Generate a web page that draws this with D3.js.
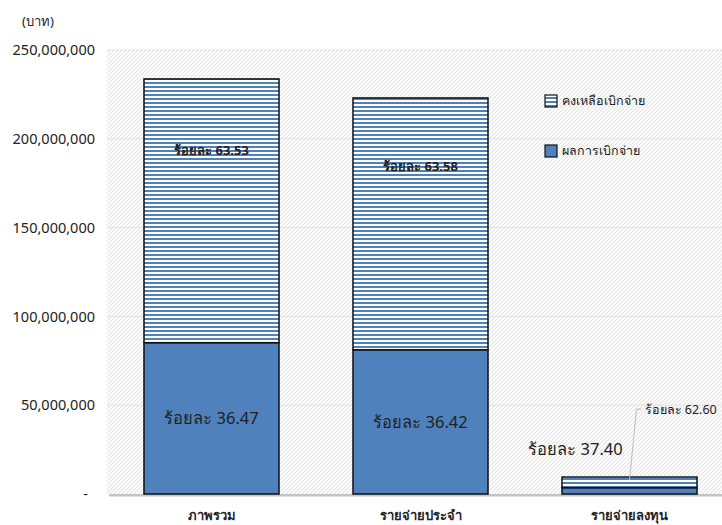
<!DOCTYPE html>
<html lang="th">
<head>
<meta charset="UTF-8">
<title>ผลการเบิกจ่าย</title>
<script src="https://cdn.jsdelivr.net/npm/d3@7"></script>
<style>
    body { margin: 0; background: #fff; }
    svg text { font-family: "Noto Sans", "Open Sans", sans-serif; fill: #222; }
</style>
</head>
<body>
<svg id="chart" width="722" height="525"></svg>
<script>
    // data
    var categories = ["ภาพรวม", "รายจ่ายประจำ", "รายจ่ายลงทุน"];
    var paidValues = [85200000, 81200000, 3570000];
    var remainValues = [148500000, 141800000, 5980000];
    var paidPct = ["36.47", "36.42", "37.40"];
    var remainPct = ["63.53", "63.58", "62.60"];
    var yTicks = [0, 50000000, 100000000, 150000000, 200000000, 250000000];
    var legendNames = ["คงเหลือเบิกจ่าย", "ผลการเบิกจ่าย"];

    var blue = "#4f81bd";
    var svg = d3.select("#chart");

    var plotL = 107, plotR = 734, plotT = 50, plotB = 494;

    var x = d3.scaleBand().domain(categories).range([plotL, plotR]).paddingInner(0.354).paddingOuter(0.177);
    var y = d3.scaleLinear().domain([0, 250000000]).range([plotB, plotT]);

    var defs = svg.append("defs");
    // diagonal hatch for the plot area
    var bg = defs.append("pattern").attr("id", "hatch").attr("patternUnits", "userSpaceOnUse")
        .attr("width", 4).attr("height", 4);
    bg.append("rect").attr("width", 4).attr("height", 4).attr("fill", "#fbfbfb");
    bg.append("path").attr("d", "M-1,1 l2,-2 M0,4 l4,-4 M3,5 l2,-2")
        .attr("stroke", "#dcdcdc").attr("stroke-width", 0.8);
    // horizontal stripes for remaining
    var st = defs.append("pattern").attr("id", "stripes").attr("patternUnits", "userSpaceOnUse")
        .attr("width", 8).attr("height", 4);
    st.append("rect").attr("width", 8).attr("height", 4).attr("fill", "#ffffff");
    st.append("rect").attr("y", 2).attr("width", 8).attr("height", 2).attr("fill", blue);

    // shadow under plot area
    svg.append("rect").attr("x", plotL + 2).attr("y", plotB).attr("width", plotR - plotL).attr("height", 2.5)
        .attr("fill", "#c4c4c4");
    svg.append("rect").attr("x", plotL).attr("y", plotT).attr("width", plotR - plotL).attr("height", plotB - plotT)
        .attr("fill", "url(#hatch)");

    // gridlines
    svg.append("g").selectAll("line").data(yTicks.slice(1)).enter().append("line")
        .attr("x1", plotL).attr("x2", plotR)
        .attr("y1", function(d) { return y(d); }).attr("y2", function(d) { return y(d); })
        .attr("stroke", "#e2e2e2").attr("stroke-width", 1);

    // y axis labels
    var yAxis = svg.append("g").attr("transform", "translate(" + (plotL - 9) + ",0)")
        .call(d3.axisLeft(y).tickValues(yTicks).tickSize(0)
            .tickFormat(function(d) { return d === 0 ? "-" : d3.format(",")(d); }));
    yAxis.select(".domain").remove();
    yAxis.selectAll("text").style("font-size", "14.5px").attr("fill", "#222");
    yAxis.selectAll(".tick").filter(function(d) { return d === 0; }).select("text").attr("x", -10);

    svg.append("text").attr("x", 22).attr("y", 26).style("font-size", "13px").text("(บาท)");

    // x axis labels
    var xAxis = svg.append("g").attr("transform", "translate(0," + plotB + ")")
        .call(d3.axisBottom(x).tickSize(0).tickPadding(17));
    xAxis.select(".domain").remove();
    xAxis.selectAll("text").style("font-size", "13px").style("font-weight", "bold").attr("fill", "#222");

    var bw = x.bandwidth();
    // paid bars
    svg.append("g").selectAll("rect").data(categories).enter().append("rect")
        .attr("x", function(d) { return x(d); })
        .attr("y", function(d, i) { return y(paidValues[i]); })
        .attr("width", bw)
        .attr("height", function(d, i) { return plotB - y(paidValues[i]); })
        .attr("fill", blue).attr("stroke", "#111").attr("stroke-width", 1.5);
    // remaining bars
    svg.append("g").selectAll("rect").data(categories).enter().append("rect")
        .attr("x", function(d) { return x(d); })
        .attr("y", function(d, i) { return y(paidValues[i] + remainValues[i]); })
        .attr("width", bw)
        .attr("height", function(d, i) { return y(paidValues[i]) - y(paidValues[i] + remainValues[i]); })
        .attr("fill", "url(#stripes)").attr("stroke", "#111").attr("stroke-width", 1.5);

    // labels inside remaining part (first two)
    svg.append("g").selectAll("text").data(categories.slice(0, 2)).enter().append("text")
        .attr("x", function(d) { return x(d) + bw / 2; })
        .attr("y", function(d, i) { return y(paidValues[i] + remainValues[i] * 0.73) + 5; })
        .attr("text-anchor", "middle").style("font-size", "13px").style("font-weight", "bold")
        .attr("fill", "#333")
        .text(function(d, i) { return "ร้อยละ " + remainPct[i]; });

    // labels for paid part
    svg.append("g").selectAll("text").data(categories).enter().append("text")
        .attr("x", function(d, i) { return i < 2 ? x(d) + bw / 2 : x(d) + bw / 2 - 54; })
        .attr("y", function(d, i) { return i < 2 ? y(paidValues[i] / 2) + 6 : y(paidValues[i]) - 33; })
        .attr("text-anchor", "middle").style("font-size", "16.5px")
        .text(function(d, i) { return "ร้อยละ " + paidPct[i]; });

    // leader label for the small bar
    var c3 = categories[2];
    var topY = y(paidValues[2] + remainValues[2]);
    var lx = x(c3) + bw / 2;
    svg.append("path")
        .attr("d", "M" + lx + "," + (topY + 3) + " L" + (lx + 7) + "," + (topY - 68) + " L" + (lx + 12) + "," + (topY - 68))
        .attr("fill", "none").attr("stroke", "#bdbdbd").attr("stroke-width", 1);
    svg.append("text").attr("x", lx + 15).attr("y", topY - 63)
        .style("font-size", "12.5px").text("ร้อยละ " + remainPct[2]);

    // legend
    var legend = svg.append("g").attr("transform", "translate(545,95)");
    legendNames.forEach(function(name, i) {
        legend.append("rect").attr("x", 0).attr("y", i * 50).attr("width", 12).attr("height", 12)
            .attr("fill", i === 0 ? "url(#stripes)" : blue).attr("stroke", "#111").attr("stroke-width", 1.2);
        legend.append("text").attr("x", 17).attr("y", i * 50 + 10)
            .style("font-size", "12.5px").attr("fill", "#444").text(name);
    });
</script>
</body>
</html>
